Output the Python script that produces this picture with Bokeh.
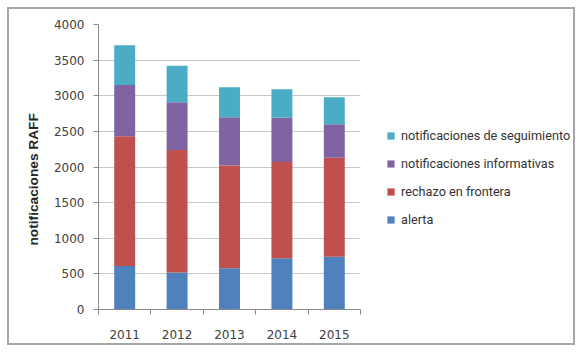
from bokeh.plotting import figure
from bokeh.models import (Range1d, FixedTicker, Legend, LegendItem, ColumnDataSource,
                          Title)
from bokeh.embed import file_html
from bokeh.resources import INLINE

years = ["2011", "2012", "2013", "2014", "2015"]
alerta = [610, 520, 580, 720, 740]
rechazo = [1820, 1720, 1440, 1350, 1390]
informativas = [720, 670, 680, 620, 470]
seguimiento = [560, 510, 420, 400, 380]

series = ["alerta", "rechazo", "informativas", "seguimiento"]
labels = ["alerta", "rechazo en frontera", "notificaciones informativas",
          "notificaciones de seguimiento"]
colors = ["#4F81BD", "#C0504D", "#8064A2", "#4BACC6"]
y_title = "notificaciones RAFF"

n = len(years)
xs = [i + 0.5 for i in range(n)]
src = ColumnDataSource(dict(x=xs, alerta=alerta, rechazo=rechazo,
                            informativas=informativas, seguimiento=seguimiento))

# frame spans to the right border; the category area uses 262 of its 479 px
x_end = n * 479 / 262
p = figure(width=568, height=338, output_backend="svg", toolbar_location=None,
           x_range=Range1d(0, x_end), y_range=Range1d(0, 4000),
           min_border_left=89, min_border_right=0, min_border_top=15,
           min_border_bottom=38, margin=(7, 0, 0, 7))
p.outline_line_color = None
p.background_fill_color = "white"
p.border_fill_color = "white"
p.styles = {"border": "2px solid #a6a6a6"}

rs = p.vbar_stack(series, x="x", width=0.4, source=src, color=colors, line_color=None)

# axes
p.xaxis.bounds = (0, n)
p.xaxis.ticker = FixedTicker(ticks=xs, minor_ticks=list(range(n + 1)))
p.xaxis.major_label_overrides = {x: y for x, y in zip(xs, years)}
p.xaxis.major_tick_out = 0
p.xaxis.major_tick_in = 0
p.xaxis.minor_tick_out = 5
p.xaxis.minor_tick_in = 0
p.xaxis.minor_tick_line_color = "#8a8a8a"
p.xaxis.major_label_standoff = 15
p.yaxis.ticker = FixedTicker(ticks=list(range(0, 4001, 500)))
p.yaxis.minor_tick_line_color = None
p.yaxis.major_tick_out = 5
p.yaxis.major_tick_in = 0
p.yaxis.major_tick_line_color = "#8a8a8a"
p.yaxis.major_label_standoff = 9
for ax in (p.xaxis, p.yaxis):
    ax.axis_line_color = "#8a8a8a"
    ax.major_label_text_font = "DejaVu Sans"
    ax.major_label_text_font_size = "12px"
    ax.major_label_text_color = "#404040"
p.xgrid.grid_line_color = None
p.ygrid.grid_line_color = "#c8c8c8"
p.ygrid.cross_bounds = (0, n)

t = Title(text=y_title, align="left", offset=64, standoff=20,
          text_font="Liberation Sans", text_font_style="bold",
          text_font_size="13.7px", text_color="#262626")
p.add_layout(t, "left")

items = [LegendItem(label=labels[i], renderers=[rs[i]]) for i in reversed(range(4))]
leg = Legend(items=items, location=(288, 82), glyph_width=9, glyph_height=9,
             label_height=9, spacing=13, padding=0, margin=0, label_standoff=6,
             label_text_font="Roboto", label_text_font_size="12.7px",
             label_text_color="#333333", border_line_color=None,
             background_fill_alpha=0)
p.add_layout(leg)

open("out.html", "w").write(file_html(p, INLINE))
